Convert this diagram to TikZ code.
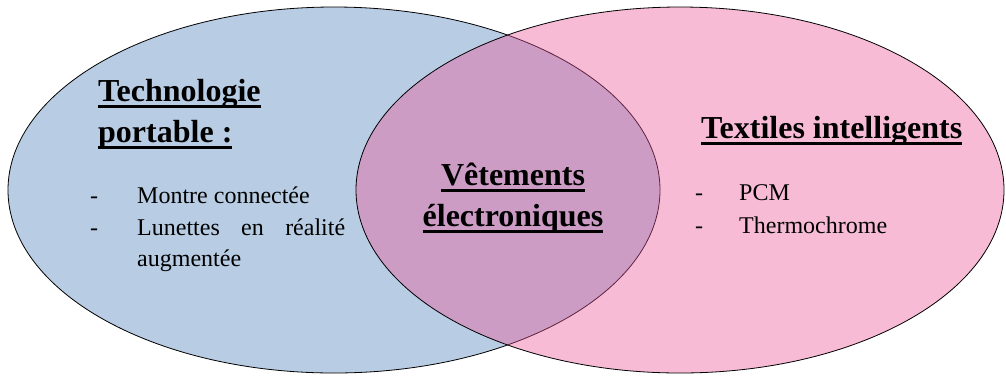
\documentclass[tikz,border=0pt]{standalone}
\usepackage{fontspec}
\setmainfont{Liberation Serif}
\newsavebox{\headbox}
\newcommand{\headline}[1]{\sbox{\headbox}{#1}\rlap{\rule[-6.5pt]{\wd\headbox}{2.6pt}}\usebox{\headbox}}
\definecolor{setblue}{RGB}{184,204,228}
\definecolor{setpink}{RGB}{235,85,152}
\tikzset{
  setline/.style={line width=0.8pt},
  heading/.style={font=\fontsize{32}{41}\selectfont\bfseries, inner sep=0pt},
  itemtext/.style={font=\fontsize{24}{31.5}\selectfont, inner sep=0pt, anchor=base west},
  itemmark/.style={font=\fontsize{24}{31.5}\selectfont, inner sep=0pt, anchor=base west}
}
\begin{document}
\begin{tikzpicture}[x=1pt,y=-1pt]
   \useasboundingbox (0,0) rectangle (1006,376);

   % the two sets
   \draw[setline,fill=setblue] (334,190) ellipse [x radius=326, y radius=183];
   \draw[setline,fill=setpink,fill opacity=0.4] (680,190) ellipse [x radius=324, y radius=183];

   % left set
   \node[heading,anchor=base west,align=left] (techhead) at (98,142)
     {\headline{Technologie}\\\headline{portable :}};
   \node[itemmark] (markA) at (90,203) {-};
   \node[itemtext] (montre) at (137,203) {Montre connectée};
   \node[itemmark] (markB) at (90,235) {-};
   \node[itemtext,text width=208pt,align=justify] (lunettes) at (137,235)
     {Lunettes en réalité augmentée};

   % overlap
   \node[heading,anchor=base,align=center] (vetements) at (513,226)
     {\headline{Vêtements}\\\headline{électroniques}};

   % right set
   \node[heading,anchor=base west] (textiles) at (701,138) {\headline{Textiles intelligents}};
   \node[itemmark] (markC) at (695,200) {-};
   \node[itemtext] (pcm) at (739,200) {PCM};
   \node[itemmark] (markD) at (695,233) {-};
   \node[itemtext] (thermo) at (739,233) {Thermochrome};
 \end{tikzpicture}
\end{document}
